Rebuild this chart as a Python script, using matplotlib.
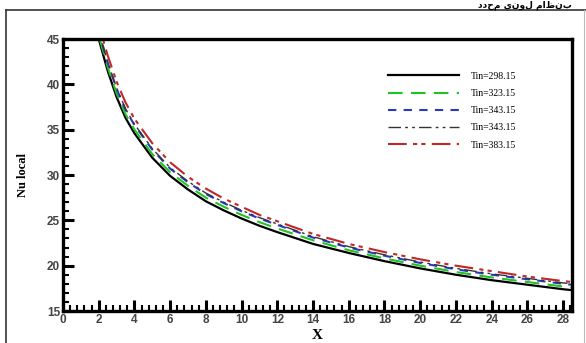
import matplotlib
matplotlib.use("Agg")
import matplotlib.pyplot as plt
from matplotlib.ticker import MultipleLocator
from matplotlib.lines import Line2D

# ---- data ----
x = [1.8, 2, 2.5, 3, 3.5, 4, 5, 6, 7, 8, 9, 10, 11, 12, 14, 16, 18, 20, 22, 24, 26, 28, 28.5]
nu_298 = [46.8, 45.0, 41.5, 38.6, 36.3, 34.6, 31.9, 29.9, 28.4, 27.1, 26.1, 25.2, 24.4, 23.7,
          22.4, 21.4, 20.5, 19.7, 19.0, 18.4, 17.9, 17.4, 17.3]
nu_323 = [47.3, 45.4, 41.9, 39.0, 36.7, 35.0, 32.3, 30.3, 28.8, 27.5, 26.5, 25.6, 24.8, 24.1,
          22.8, 21.7, 20.8, 20.0, 19.3, 18.7, 18.2, 17.7, 17.6]
nu_343a = [47.7, 45.8, 42.4, 39.5, 37.2, 35.5, 32.8, 30.7, 29.2, 27.9, 26.9, 26.0, 25.2, 24.5,
           23.1, 22.0, 21.1, 20.3, 19.6, 19.0, 18.5, 18.0, 17.9]
nu_343b = [47.8, 45.9, 42.5, 39.6, 37.3, 35.6, 32.9, 30.8, 29.3, 28.0, 27.0, 26.1, 25.3, 24.6,
           23.2, 22.1, 21.2, 20.4, 19.7, 19.1, 18.6, 18.1, 18.0]
nu_383 = [48.5, 46.6, 43.2, 40.3, 38.0, 36.2, 33.5, 31.4, 29.8, 28.5, 27.4, 26.5, 25.6, 24.9,
          23.5, 22.4, 21.5, 20.7, 20.0, 19.4, 18.8, 18.3, 18.2]
labels = ["Tin=298.15", "Tin=323.15", "Tin=343.15", "Tin=343.15", "Tin=383.15"]
xticks = list(range(0, 29, 2))
yticks = [15, 20, 25, 30, 35, 40, 45]

fig = plt.figure(figsize=(5.86, 3.43), dpi=100)
fig.patch.set_facecolor("white")

# outer page frame lines
fig.add_artist(Line2D([6/586, 6/586], [0, 1 - 10/343], color="#333333", lw=1.2))
fig.add_artist(Line2D([6/586, 1], [1 - 10/343, 1 - 10/343], color="#333333", lw=1.2))
fig.add_artist(Line2D([584/586, 584/586], [0, 1 - 10/343], color="#bbbbbb", lw=0.8))
# caption from the page above (partly visible in the reference)
fig.text(0.975, 1 - 10.5/343, "بنظام لوني محدد"[::-1], ha="right", va="bottom",
         fontsize=6.5, fontweight="bold", family="DejaVu Sans")

ax = fig.add_axes([63/586, 1 - 311/343, (572 - 63)/586, (311 - 39)/343])

ax.plot(x, nu_298, color="black", lw=1.6, ls="-", label=labels[0])
ax.plot(x, nu_323, color="#22c222", lw=1.5, ls=(0, (7, 4)), label=labels[1])
ax.plot(x, nu_343a, color="#2a3ac0", lw=1.5, ls=(0, (4, 3.5)), label=labels[2])
ax.plot(x, nu_343b, color="#333333", lw=1.0, ls=(0, (9, 3, 2, 3, 2, 3)), label=labels[3])
ax.plot(x, nu_383, color="#c02828", lw=1.5, ls=(0, (9, 3, 2, 2, 2, 3)), label=labels[4])

ax.set_xlim(0, 28.5)
ax.set_ylim(15, 45)
ax.set_xticks(xticks)
ax.set_yticks(yticks)
ax.xaxis.set_minor_locator(MultipleLocator(0.4))
ax.yaxis.set_minor_locator(MultipleLocator(1))
ax.tick_params(which="major", direction="in", length=8, width=2.2, top=False, right=False,
               labelsize=8.5, labelcolor="#444444", pad=2)
ax.tick_params(which="minor", direction="in", length=4, width=1.5, top=False, right=False)
for lab in ax.get_xticklabels() + ax.get_yticklabels():
    lab.set_fontweight("bold")
    lab.set_family("Liberation Sans")
for s in ax.spines.values():
    s.set_linewidth(2.4)

ax.set_xlabel("X", family="Liberation Serif", fontweight="bold", fontsize=11, labelpad=2)
ax.set_ylabel("Nu local", family="Liberation Serif", fontweight="bold", fontsize=9, labelpad=13)

leg = ax.legend(loc="upper left", bbox_to_anchor=(0.638, 0.88), frameon=False,
                prop={"family": "Liberation Serif", "size": 7}, handlelength=7.3,
                handletextpad=1.2, labelspacing=0.85, borderpad=0, borderaxespad=0)

fig.savefig("out.png", dpi=100)
